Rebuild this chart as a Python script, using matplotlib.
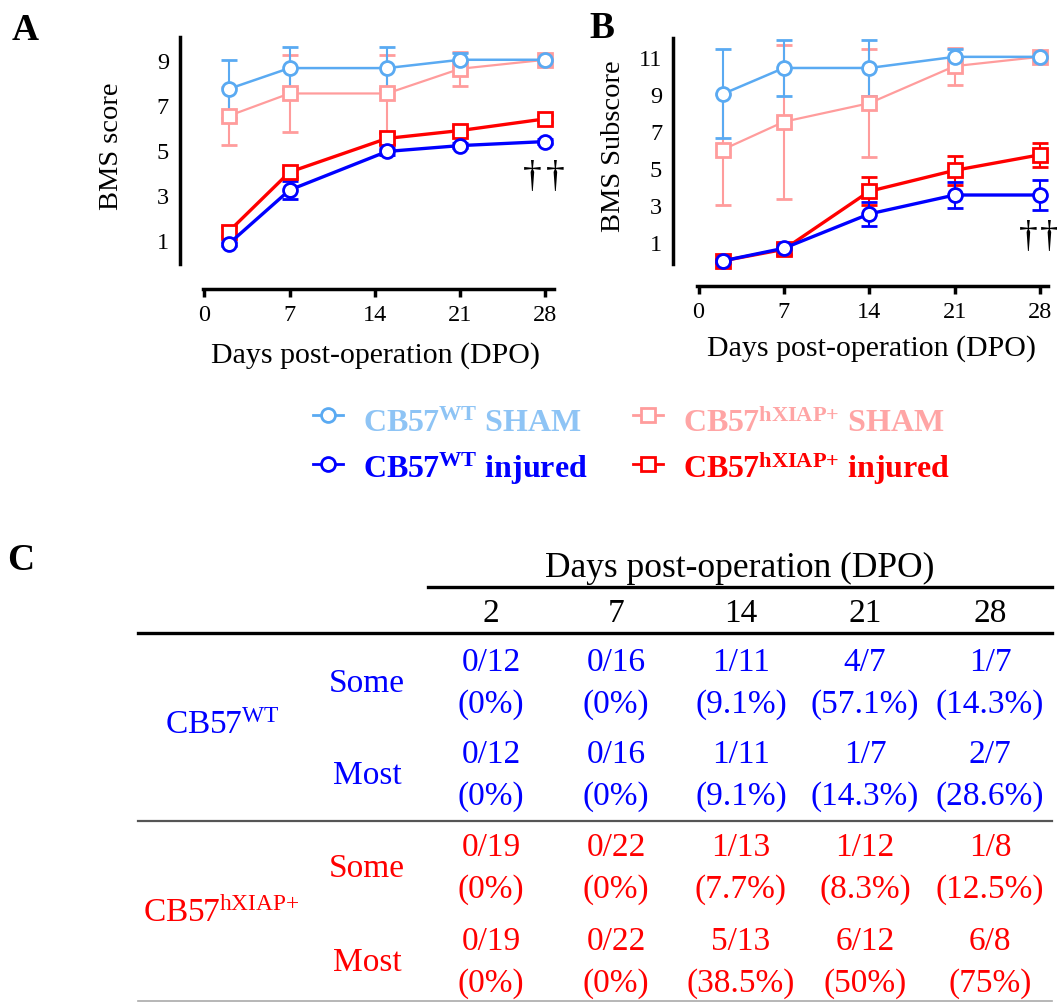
import matplotlib
matplotlib.use('Agg')
import matplotlib.pyplot as plt

plt.rcParams['font.family'] = ['Liberation Serif', 'DejaVu Serif']
plt.rcParams['mathtext.fontset'] = 'custom'
plt.rcParams['mathtext.rm'] = 'Liberation Serif'
plt.rcParams['mathtext.bf'] = 'Liberation Serif:bold'
plt.rcParams['mathtext.it'] = 'Liberation Serif:italic'

# ---- panel A: BMS score ----
days_a = [2, 7, 15, 21, 28]
a_wt_sham = [7.7, 8.63, 8.63, 9.0, 9.0]
a_wt_sham_err = [1.3, 0.95, 0.95, 0.3, 0.0]
a_hx_sham = [6.5, 7.5, 7.5, 8.6, 9.0]
a_hx_sham_err = [1.3, 1.7, 1.7, 0.75, 0.0]
a_hx_inj = [1.35, 4.0, 5.5, 5.85, 6.37]
a_hx_inj_err = [0.2, 0.2, 0.25, 0.2, 0.15]
a_wt_inj = [0.8, 3.2, 4.92, 5.18, 5.36]
a_wt_inj_err = [0.1, 0.4, 0.15, 0.1, 0.1]

# ---- panel B: BMS subscore ----
days_b = [2, 7, 14, 21, 28]
b_wt_sham = [9.0, 10.4, 10.4, 11.0, 11.0]
b_wt_sham_err = [2.4, 1.5, 1.5, 0.4, 0.0]
b_hx_sham = [6.0, 7.5, 8.5, 10.5, 11.0]
b_hx_sham_err = [3.0, 4.15, 2.9, 1.0, 0.0]
b_hx_inj = [0.0, 0.62, 3.75, 4.88, 5.72]
b_hx_inj_err = [0.1, 0.3, 0.75, 0.77, 0.66]
b_wt_inj = [0.0, 0.68, 2.53, 3.55, 3.55]
b_wt_inj_err = [0.1, 0.3, 0.63, 0.7, 0.8]

xticks = [0, 7, 14, 21, 28]
yticks_a = [1, 3, 5, 7, 9]
yticks_b = [1, 3, 5, 7, 9, 11]

# ---- panel C: table ----
table_days = [2, 7, 14, 21, 28]
wt_total = [12, 16, 11, 7, 7]
wt_some = [0, 0, 1, 4, 1]
wt_most = [0, 0, 1, 1, 2]
hx_total = [19, 22, 13, 12, 8]
hx_some = [0, 0, 1, 1, 1]
hx_most = [0, 0, 5, 6, 6]

c_lblue = '#5AAAF2'
c_pink = '#FF9C9C'
c_blue = '#0000FF'
c_red = '#FF0000'

W, H = 1057, 1004
fig = plt.figure(figsize=(W / 100, H / 100), dpi=100)


def px_rect(x0, y0, x1, y1):
    return [x0 / W, 1 - y1 / H, (x1 - x0) / W, (y1 - y0) / H]


def draw_panel(ax, days, series, ylim, yticks, off_left, off_bottom):
    for vals, errs, col, mk, lw in series:
        cont = ax.errorbar(days, vals, yerr=errs, color=col, marker=mk, ms=10,
                           mfc='white', mec=col, mew=2, lw=lw, elinewidth=1.5,
                           capsize=6, capthick=1.5)
        for art in cont.get_children():
            art.set_clip_on(False)
    ax.set_xlim(-0.1, 28.67)
    ax.set_ylim(*ylim)
    ax.set_xticks(xticks)
    ax.set_yticks(yticks)
    ax.spines['top'].set_visible(False)
    ax.spines['right'].set_visible(False)
    ax.spines['left'].set_position(('outward', off_left))
    ax.spines['bottom'].set_position(('outward', off_bottom))
    for s in ('left', 'bottom'):
        ax.spines[s].set_linewidth(2.5)
    ax.tick_params(axis='y', length=0, pad=8, labelsize=17.5)
    ax.tick_params(axis='x', direction='out', length=6, width=2.5, pad=5,
                   labelsize=17.5)
    ax.patch.set_alpha(0)


axA = fig.add_axes(px_rect(203, 38.3, 553.6, 265))
draw_panel(axA, days_a,
           [(a_hx_sham, a_hx_sham_err, c_pink, 's', 1.6),
            (a_wt_sham, a_wt_sham_err, c_lblue, 'o', 1.8),
            (a_hx_inj, a_hx_inj_err, c_red, 's', 2.4),
            (a_wt_inj, a_wt_inj_err, c_blue, 'o', 2.4)],
           (-0.09, 10), yticks_a, 16.5, 18)
axA.set_ylabel('BMS score', fontsize=20.5)
axA.yaxis.set_label_coords(-0.262, 0.522)
axA.yaxis.label.set_va('center')
axA.set_xlabel('Days post-operation (DPO)', fontsize=21.5)
axA.xaxis.set_label_coords(0.493, -0.401)
axA.xaxis.label.set_va('center')
for dx in (-1.1, 0.8):
    axA.text(days_a[-1] + dx, 3.8, '\u2020', fontsize=27, ha='center', va='center')

axB = fig.add_axes(px_rect(697.3, 39.3, 1048.3, 265))
draw_panel(axB, days_b,
           [(b_hx_sham, b_hx_sham_err, c_pink, 's', 1.6),
            (b_wt_sham, b_wt_sham_err, c_lblue, 'o', 1.8),
            (b_hx_inj, b_hx_inj_err, c_red, 's', 2.4),
            (b_wt_inj, b_wt_inj_err, c_blue, 'o', 2.4)],
           (-0.17, 12), yticks_b, 17.3, 15.8)
axB.set_ylabel('BMS Subscore', fontsize=20.5)
axB.yaxis.set_label_coords(-0.240, 0.527)
axB.yaxis.label.set_va('center')
axB.set_xlabel('Days post-operation (DPO)', fontsize=21.5)
axB.xaxis.set_label_coords(0.497, -0.368)
axB.xaxis.label.set_va('center')
for dx in (-0.95, 0.75):
    axB.text(days_b[-1] + dx, 1.3, '\u2020', fontsize=27, ha='center', va='center')

# overlay in pixel coordinates for legend, letters and table
ov = fig.add_axes([0, 0, 1, 1])
ov.set_xlim(0, W)
ov.set_ylim(H, 0)
ov.axis('off')

for letter, x, y in (('A', 25, 30), ('B', 602, 28), ('C', 21, 561)):
    ov.text(x, y, letter, fontsize=27, fontweight='bold', ha='center', va='center')

# legend
legend_items = [
    (r'$\mathbf{CB57}^{\mathbf{WT}}$ SHAM', c_lblue, '#8EC4F5', 'o', 328, 416, 432),
    (r'$\mathbf{CB57}^{\mathbf{WT}}$ injured', c_blue, c_blue, 'o', 328, 465, 478),
    (r'$\mathbf{CB57}^{\mathbf{hXIAP{+}}}$ SHAM', c_pink, '#FFA5A5', 's', 648, 416, 432),
    (r'$\mathbf{CB57}^{\mathbf{hXIAP{+}}}$ injured', c_red, c_red, 's', 648, 465, 478),
]
for label, col, tcol, mk, x, y, yb in legend_items:
    ov.plot([x - 15, x + 15], [y, y], color=col, lw=2)
    ov.plot([x], [y], marker=mk, ms=10, mfc='white', mec=col, mew=2)
    ov.text(x + 35, yb, label, color=tcol, fontsize=23, fontweight='bold',
            ha='left', va='baseline')

# table
col_x = [491, 616, 741, 865, 990]
ov.text(740, 568, 'Days post-operation (DPO)', fontsize=25.5, ha='center', va='center')
ov.plot([428, 1052], [588, 588], color='black', lw=2.4)
for x, d in zip(col_x, table_days):
    ov.text(x, 614, str(d), fontsize=24, ha='center', va='center')
ov.plot([138, 1052], [634, 634], color='black', lw=2.4)
ov.plot([138, 1052], [822, 822], color='#555555', lw=1.6)
ov.plot([138, 1052], [1002, 1002], color='#aaaaaa', lw=1.2)


def pct(n, t):
    p = 100.0 * n / t
    s = f'{p:.1f}'
    if s.endswith('.0'):
        s = s[:-2]
    return f'({s}%)'


rows = [
    (wt_some, wt_total, c_blue, 'Some', 663),
    (wt_most, wt_total, c_blue, 'Most', 755),
    (hx_some, hx_total, c_red, 'Some', 848),
    (hx_most, hx_total, c_red, 'Most', 942),
]
for counts, totals, col, name, y in rows:
    ov.text(367, y + 21, name, color=col, fontsize=24, ha='center', va='center')
    for x, n, t in zip(col_x, counts, totals):
        ov.text(x, y, f'{n}/{t}', color=col, fontsize=24, ha='center', va='center')
        ov.text(x, y + 42, pct(n, t), color=col, fontsize=24, ha='center', va='center')

ov.text(222, 726, r'$\mathrm{CB57}^{\mathrm{WT}}$', color=c_blue, fontsize=24,
        ha='center', va='center')
ov.text(221, 913, r'$\mathrm{CB57}^{\mathrm{hXIAP{+}}}$', color=c_red, fontsize=24,
        ha='center', va='center')

fig.savefig('out.png', dpi=100)
